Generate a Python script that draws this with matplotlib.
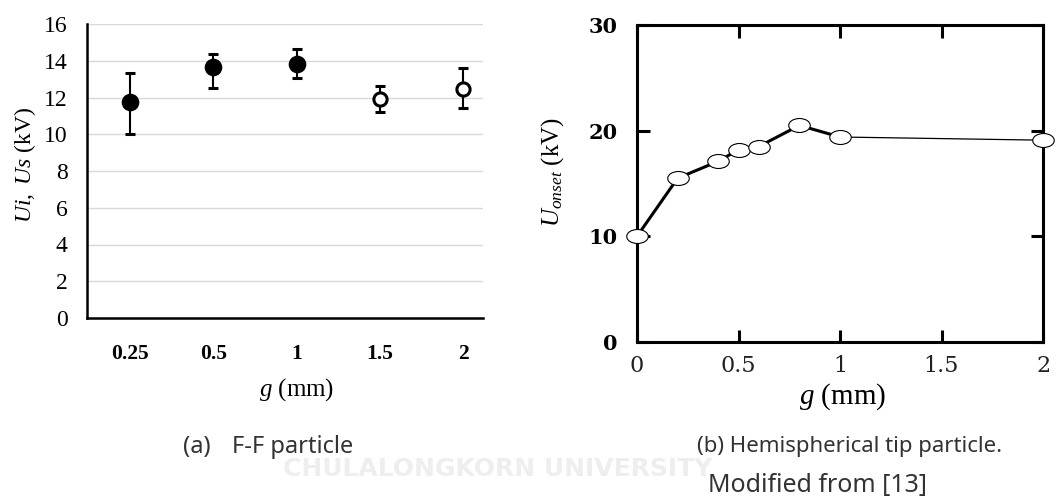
import matplotlib
matplotlib.use("Agg")
import matplotlib.pyplot as plt
from matplotlib.path import Path

# ---------- data ----------
# (a) F-F particle: categorical gap lengths
gap_a = ["0.25", "0.5", "1", "1.5", "2"]
u_a = [11.74, 13.65, 13.85, 11.92, 12.47]
err_lo_a = [10.04, 12.52, 13.05, 11.23, 11.42]
err_hi_a = [13.34, 14.37, 14.63, 12.65, 13.61]
filled_a = [True, True, True, False, False]

# (b) Hemispherical tip particle
g_b = [0.0, 0.2, 0.4, 0.5, 0.6, 0.8, 1.0, 2.0]
u_b = [10.0, 15.5, 17.1, 18.2, 18.5, 20.5, 19.4, 19.1]

# ---------- style ----------
plt.rcParams["mathtext.fontset"] = "custom"
plt.rcParams["mathtext.rm"] = "Liberation Serif"
plt.rcParams["mathtext.it"] = "Liberation Serif:italic"
SERIF = "Liberation Serif"

W, H = 1056, 499
fig = plt.figure(figsize=(W / 100, H / 100), dpi=100)


def px_axes(left, top, right, bottom):
    return fig.add_axes([left / W, 1 - bottom / H, (right - left) / W, (bottom - top) / H])


# ---------- watermark (very faint) ----------
fig.text(498 / W, 1 - 469 / H, "CHULALONGKORN UNIVERSITY", ha="center", va="center",
         fontsize=18, fontweight="bold", color="#eeeeee", zorder=0)

# ---------- (a) ----------
ax1 = px_axes(87, 24, 483, 318)
ax1.patch.set_alpha(0)
xs = list(range(len(gap_a)))
for x, u, lo, hi, f in zip(xs, u_a, err_lo_a, err_hi_a, filled_a):
    ax1.errorbar(x, u, yerr=[[u - lo], [hi - u]], fmt="o", color="black",
                 ms=10.5 if f else 9.5, mfc="black" if f else "white",
                 mec="black", mew=2.2, elinewidth=1.5, capsize=3.5, capthick=1.5,
                 zorder=3)
ax1.set_xlim(-0.52, 4.24)
ax1.set_ylim(0, 16)
ax1.set_yticks(range(0, 17, 2))
ax1.set_xticks(xs)
ax1.set_xticklabels(gap_a, fontfamily=SERIF, fontweight="bold", fontsize=15.5)
for lab in ax1.get_yticklabels():
    lab.set_fontfamily(SERIF)
    lab.set_fontsize(17)
ax1.tick_params(axis="both", length=0)
ax1.tick_params(axis="y", pad=14)
ax1.tick_params(axis="x", pad=19)
ax1.grid(axis="y", color="#d9d9d9", lw=1)
ax1.set_axisbelow(True)
for s in ["top", "right"]:
    ax1.spines[s].set_visible(False)
for s in ["left", "bottom"]:
    ax1.spines[s].set_linewidth(1.8)
ax1.set_xlabel(r"$g$ (mm)", fontfamily=SERIF, fontsize=18)
ax1.xaxis.label.set_va("center")
ax1.xaxis.set_label_coords(0.53, -0.245)
ax1.set_ylabel(r"$Ui,\ Us$ (kV)", fontfamily=SERIF, fontsize=17)
ax1.yaxis.label.set_va("center")
ax1.yaxis.set_label_coords(-0.157, 0.52)

# ---------- (b) ----------
ax2 = px_axes(637, 25, 1043, 342)
ax2.patch.set_alpha(0)
circ = Path.unit_circle()
ellipse = Path(circ.vertices * [1.0, 0.65], circ.codes)
ax2.plot(g_b[:7], u_b[:7], color="black", lw=2.2, zorder=2)
ax2.plot(g_b[6:], u_b[6:], color="black", lw=0.9, zorder=2)
ax2.plot(g_b, u_b, ls="none", marker=ellipse, ms=15.5, mfc="white", mec="black",
         mew=0.8, zorder=3, clip_on=False)
ax2.set_xlim(0, 2.0)
ax2.set_ylim(0, 30)
ax2.set_xticks([0, 0.5, 1, 1.5, 2])
ax2.set_xticklabels(["0", "0.5", "1", "1.5", "2"])
ax2.set_yticks([0, 10, 20, 30])
for lab in ax2.get_xticklabels():
    lab.set_fontfamily("DejaVu Serif")
    lab.set_fontsize(16)
    lab.set_color("#222222")
for lab in ax2.get_yticklabels():
    lab.set_fontfamily("DejaVu Serif")
    lab.set_fontsize(15)
    lab.set_fontweight("bold")
ax2.tick_params(axis="both", direction="in", length=9, width=2.2,
                top=True, right=True)
ax2.tick_params(axis="x", pad=9)
ax2.tick_params(axis="y", pad=14)
for s in ax2.spines.values():
    s.set_linewidth(2.2)
ax2.set_xlabel(r"$g$ (mm)", fontfamily=SERIF, fontsize=21)
ax2.xaxis.label.set_va("center")
ax2.xaxis.set_label_coords(0.507, -0.173)
ax2.set_ylabel(r"$U_{onset}$ (kV)", fontfamily=SERIF, fontsize=18)
ax2.yaxis.label.set_va("center")
ax2.yaxis.set_label_coords(-0.207, 0.536)

# ---------- captions ----------
CAP = dict(fontfamily="Noto Sans", color="#333333", va="baseline", ha="left")
fig.text(183 / W, 1 - 453 / H, "(a)", fontsize=17, **CAP)
fig.text(232 / W, 1 - 453 / H, "F-F particle", fontsize=17, **CAP)
fig.text(697 / W, 1 - 452 / H, "(b) Hemispherical tip particle.", fontsize=16, **CAP)
fig.text(708 / W, 1 - 492 / H, "Modified from [13]", fontsize=18, **CAP)

fig.savefig("out.png", dpi=100)
